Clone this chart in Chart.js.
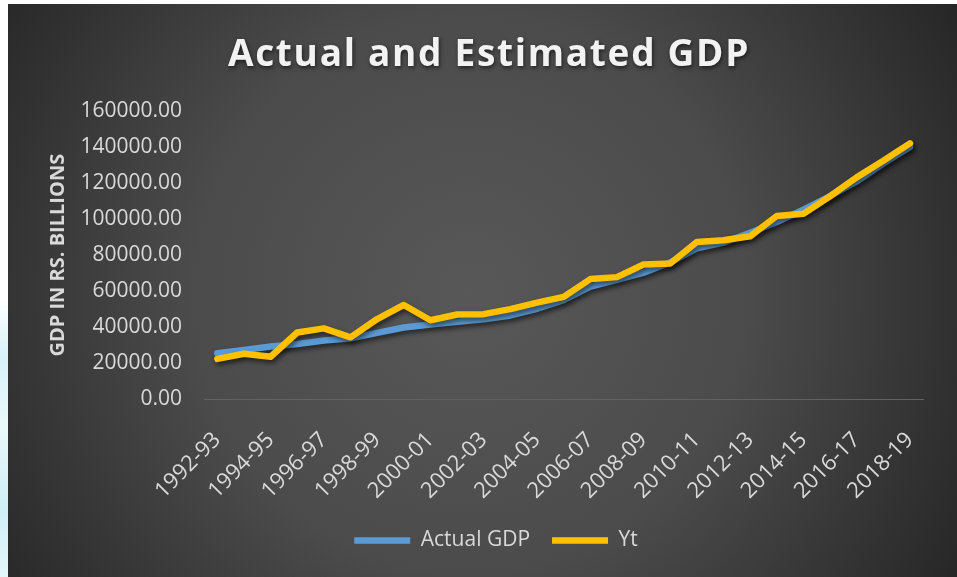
<!DOCTYPE html>
<html>
<head>
<meta charset="utf-8">
<script src="https://cdn.jsdelivr.net/npm/chart.js@4.4.1/dist/chart.umd.min.js"></script>
<style>
  html, body { margin: 0; padding: 0; background: #fff; }
  body { width: 957px; height: 577px; position: relative; overflow: hidden; }
  #edge {
    position: absolute; left: 0; top: 0; width: 8px; height: 577px;
    background: linear-gradient(#fff 0%, #fff 52%, #d6f3f9 62%, #eaf8fb 74%, #cfeff7 88%, #e4f7fb 100%);
  }
  #box { position: absolute; left: 8px; top: 4px; width: 949px; height: 573px; }
</style>
</head>
<body>
<div id="edge"></div>
<div id="box"><canvas id="gdp"></canvas></div>
<script>
var years = [
  '1992-93', '1993-94', '1994-95', '1995-96', '1996-97', '1997-98', '1998-99',
  '1999-00', '2000-01', '2001-02', '2002-03', '2003-04', '2004-05', '2005-06',
  '2006-07', '2007-08', '2008-09', '2009-10', '2010-11', '2011-12', '2012-13',
  '2013-14', '2014-15', '2015-16', '2016-17', '2017-18', '2018-19'
];

// Rs. billions
var actualGdp = [
  25500, 27300, 29200, 30600, 32500, 33800, 36800, 39800, 41500, 43000,
  44300, 46500, 50200, 55000, 62500, 66300, 70300, 76000, 83800, 87000,
  92500, 98500, 105300, 112800, 121000, 131000, 140200
];
var yt = [
  22300, 25200, 23500, 37000, 39300, 34300, 44500, 52300, 43800, 47000,
  47200, 50000, 53600, 56800, 66700, 67800, 74800, 75400, 87300, 88300,
  90500, 101800, 103000, 112800, 123300, 132500, 142200
];

var yMax = 160000;
var yStep = 20000;

var textColor = '#d9d9d9';
var font = 'Open Sans';

var backdrop = {
  id: 'backdrop',
  beforeDraw: function (chart) {
    var ctx = chart.ctx;
    var g = ctx.createRadialGradient(462, 290, 0, 462, 290, 560);
    g.addColorStop(0, '#585858');
    g.addColorStop(0.5, '#4b4b4b');
    g.addColorStop(1, '#272727');
    ctx.save();
    ctx.fillStyle = g;
    ctx.fillRect(0, 0, chart.width, chart.height);
    ctx.restore();
  }
};

// letter spacing + soft shadow on the title, shadow under the lines
var styling = {
  id: 'styling',
  afterLayout: function (chart) {
    chart.legend.left += 24;
    chart.legend.right += 24;
    var t = chart.titleBlock;
    if (t && !t._wrapped) {
      var draw = t.draw;
      t.draw = function () {
        var ctx = chart.ctx;
        ctx.save();
        ctx.letterSpacing = '1.7px';
        ctx.shadowColor = 'rgba(0,0,0,0.6)';
        ctx.shadowBlur = 4;
        ctx.shadowOffsetX = 1;
        ctx.shadowOffsetY = 2;
        ctx.translate(17, 0);
        draw.apply(this, arguments);
        ctx.restore();
      };
      t._wrapped = true;
    }
  },
  beforeDatasetsDraw: function (chart) {
    var ctx = chart.ctx;
    ctx.save();
    ctx.shadowColor = 'rgba(0,0,0,0.55)';
    ctx.shadowBlur = 5;
    ctx.shadowOffsetX = 2;
    ctx.shadowOffsetY = 3;
  },
  afterDatasetsDraw: function (chart) {
    chart.ctx.restore();
  }
};

new Chart(document.getElementById('gdp'), {
  type: 'line',
  data: {
    labels: years,
    datasets: [{
      label: 'Actual GDP',
      data: actualGdp,
      borderColor: '#5b9bd5',
      backgroundColor: '#5b9bd5',
      borderWidth: 6.5,
      borderCapStyle: 'round',
      borderJoinStyle: 'round',
      pointRadius: 0,
      tension: 0,
      order: 1
    }, {
      label: 'Yt',
      data: yt,
      borderColor: '#ffc000',
      backgroundColor: '#ffc000',
      borderWidth: 6.5,
      borderCapStyle: 'round',
      borderJoinStyle: 'round',
      pointRadius: 0,
      tension: 0,
      order: 0
    }]
  },
  options: {
    responsive: true,
    maintainAspectRatio: false,
    animation: false,
    layout: { padding: { left: 0, right: 21, top: 0, bottom: 16 } },
    plugins: {
      title: {
        display: true,
        text: 'Actual and Estimated GDP',
        color: '#f2f2f2',
        font: { family: font, size: 37, weight: 'bold' },
        padding: { top: 29, bottom: 34 }
      },
      legend: {
        position: 'bottom',
        labels: {
          color: textColor,
          font: { family: font, size: 21 },
          usePointStyle: true,
          pointStyle: 'line',
          pointStyleWidth: 56,
          boxHeight: 6,
          padding: 22,
          sort: function (a, b) { return a.datasetIndex - b.datasetIndex; }
        }
      },
      tooltip: { enabled: false }
    },
    scales: {
      x: {
        offset: true,
        grid: { display: false, drawTicks: false },
        border: { display: true, color: '#626262', width: 1 },
        ticks: {
          color: textColor,
          font: { family: font, size: 22 },
          autoSkip: false,
          maxRotation: 45,
          minRotation: 45,
          padding: 28,
          callback: function (value, index) {
            return index % 2 === 0 ? this.getLabelForValue(value) : '';
          }
        },
        afterFit: function (scale) { scale.height = 109; }
      },
      y: {
        min: 0,
        max: yMax,
        grid: { display: false, drawTicks: false },
        border: { display: false },
        ticks: {
          stepSize: yStep,
          color: textColor,
          font: { family: font, size: 21 },
          padding: 22,
          callback: function (value) { return value.toFixed(2); }
        },
        title: {
          display: true,
          text: 'GDP IN RS. BILLIONS',
          color: textColor,
          font: { family: font, size: 20, weight: 'bold' },
          padding: { top: 38, bottom: 0 }
        },
        afterFit: function (scale) { scale.width = 196; }
      }
    }
  },
  plugins: [backdrop, styling]
});
</script>
</body>
</html>
